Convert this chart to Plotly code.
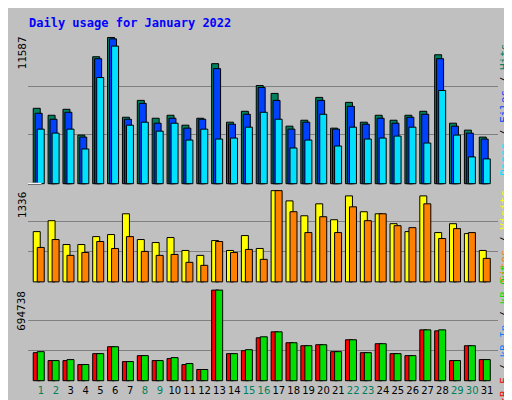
import plotly.graph_objects as go

days = list(range(1, 32))
weekend = [1, 2, 8, 9, 15, 16, 22, 23, 29, 30]

hits = [5974, 5423, 5895, 3851, 10061, 11587, 5266, 6602, 5187, 5423, 4637, 5187, 9511, 4873, 5738, 7781,
        7153, 4559, 5030, 6838, 4402, 6445, 4873, 5423, 5030, 5423, 5738, 10218, 4795, 4244, 3694]
files = [5581, 5109, 5659, 3694, 9904, 11476, 5109, 6367, 4795, 5187, 4402, 5109, 9118, 4716, 5502, 7624,
         6602, 4323, 4873, 6602, 4323, 6131, 4716, 5187, 4795, 5266, 5502, 9904, 4559, 4009, 3537]
pages = [4323, 4009, 4323, 2751, 8410, 10902, 4637, 4873, 4166, 4795, 3458, 4323, 3537, 3616, 4480, 5659,
         5109, 2830, 3458, 5502, 2987, 4480, 3537, 3616, 3773, 4480, 3222, 7388, 3851, 2122, 1965]
visits = [736, 896, 547, 547, 663, 693, 997, 620, 576, 649, 460, 388, 605, 460, 678, 489,
          1336, 1186, 968, 1143, 910, 1259, 1027, 997, 852, 736, 1259, 722, 852, 707, 460]
sites = [504, 620, 388, 431, 591, 489, 663, 446, 388, 402, 286, 242, 591, 431, 475, 330,
         1336, 1027, 722, 954, 722, 1099, 896, 997, 823, 794, 1143, 635, 780, 722, 344]
kb_out = [222700, 154300, 161900, 123900, 207500, 260700, 146700, 192300, 154300, 177100, 131500, 85900,
          694738, 207500, 237900, 336700, 374700, 291100, 268300, 275900, 222700, 313900, 215100, 283700,
          207500, 192300, 389900, 389900, 154300, 268300, 161900]
kb_f = [215100, 154300, 154300, 123900, 207500, 260700, 146700, 192300, 154300, 169500, 123900, 85900,
        694738, 207500, 230300, 329100, 374700, 291100, 268300, 275900, 222700, 313900, 215100, 283700,
        207500, 192300, 389900, 382300, 154300, 268300, 161900]

W = 0.47
fig = go.Figure()

def bars(vals, color, off, axis):
    fig.add_trace(go.Bar(x=days, y=vals, width=W, offset=off, marker_color=color,
                         marker_line=dict(color="black", width=1), xaxis="x", yaxis=axis,
                         showlegend=False, hoverinfo="y"))

bars(hits, "#00805C", -0.52, "y")
bars(files, "#0040FF", -0.39, "y")
bars(pages, "#00E0FF", -0.25, "y")
bars(visits, "#FFFF00", -0.52, "y2")
bars(sites, "#FF8000", -0.25, "y2")
bars(kb_f, "#FF0000", -0.52, "y3")
bars(kb_out, "#00E000", -0.25, "y3")

ticktext = [f"<span style='color:{'#00805C' if d in weekend else 'black'}'>{d}</span>" for d in days]

def yax(mx, rng, dom, title):
    return dict(range=rng, domain=dom, tickvals=[mx / 3, mx * 2 / 3], showticklabels=False,
                showgrid=True, gridcolor="#808080", gridwidth=1, zeroline=False, ticks="",
                side="right", title=dict(text=title, standoff=2, font=dict(size=11)))

H = 353.0
def py(p):
    return (378 - p) / H

def px(p):
    return (p - 20) / 471.0

fig.update_layout(
    width=512, height=400, margin=dict(l=20, r=21, t=25, b=22),
    paper_bgcolor="#C0C0C0", plot_bgcolor="#C0C0C0", barmode="overlay",
    font=dict(family="DejaVu Sans Mono", size=11, color="black"),
    xaxis=dict(range=[0.128, 31.74], tickvals=days, ticktext=ticktext, showgrid=False, tickangle=0,
               zeroline=False, ticks="", tickfont=dict(size=10, family="DejaVu Sans"), anchor="y3"),
    yaxis=yax(11587, [-236, 11941], [py(180), 1],
              "<span style='color:#00E0FF'>Pages</span> / <span style='color:#0040FF'>Files</span> / "
              "<span style='color:#00805C'>Hits</span>"),
    yaxis2=yax(1336, [-58, 1394], [py(280), py(180)],
               "<span style='color:#FF8000'>Sites</span> / <span style='color:#FFFF00'>Visits</span>"),
    yaxis3=yax(694738, [-17500, 727400], [0, py(280)],
               "<span style='color:#FF0000'>kB F</span> / <span style='color:#0080FF'>kB In</span> / "
               "<span style='color:#00E000'>kB Out</span>"),
)

shapes = [
    dict(type="rect", x0=px(0.5), x1=px(511.5), y0=py(399.5), y1=py(0.5), line=dict(color="black", width=1)),
    dict(type="line", x0=px(2), x1=px(2), y0=py(397), y1=py(2), line=dict(color="white", width=2)),
    dict(type="line", x0=px(2), x1=px(509), y0=py(2), y1=py(2), line=dict(color="white", width=2)),
    dict(type="line", x0=px(509), x1=px(509), y0=py(2), y1=py(397), line=dict(color="#808080", width=2)),
    dict(type="line", x0=px(2), x1=px(509), y0=py(397), y1=py(397), line=dict(color="#808080", width=2)),
]
for top, bot in [(25, 180), (180, 280), (280, 378)]:
    shapes.append(dict(type="rect", x0=0, x1=1, y0=py(bot), y1=py(top), line=dict(color="black", width=1)))
for s in [180, 280]:
    shapes.append(dict(type="line", x0=0, x1=1, y0=py(s) - 1.5 / H, y1=py(s) - 1.5 / H, line=dict(color="white", width=1)))
fig.update_layout(shapes=shapes)

ann = [
    dict(text="<b>Daily usage for January 2022</b>", x=px(19), y=py(15), xanchor="left", yanchor="middle",
         font=dict(color="#0000FF", size=12)),
    dict(text="11587", x=px(14), y=py(27), textangle=-90, xanchor="center", yanchor="top"),
    dict(text="1336", x=px(14), y=py(183), textangle=-90, xanchor="center", yanchor="top"),
    dict(text="694738", x=px(14), y=py(283), textangle=-90, xanchor="center", yanchor="top"),
]
for a in ann:
    a.update(xref="paper", yref="paper", showarrow=False)
fig.update_layout(annotations=ann)

fig.write_html("out.html")
